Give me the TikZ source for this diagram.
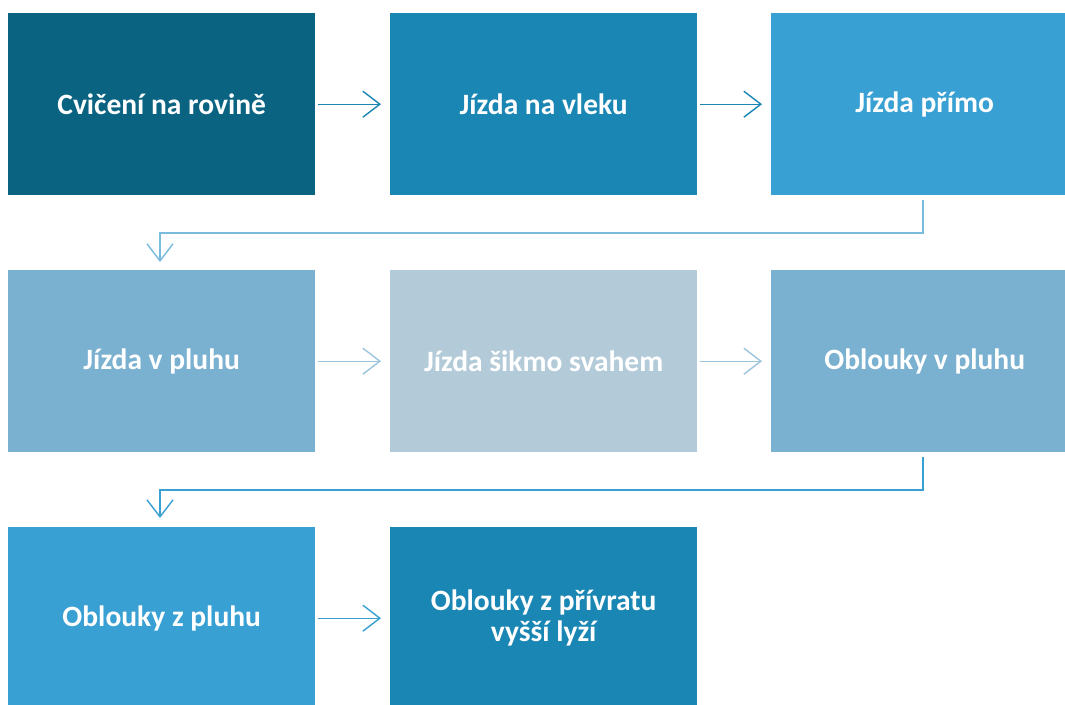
\documentclass[tikz,border=0pt]{standalone}
\usepackage{fontspec}
\setmainfont{Carlito}
\usetikzlibrary{arrows.meta}
\definecolor{cA}{HTML}{0B6382}
\definecolor{cB}{HTML}{1A86B4}
\definecolor{cC}{HTML}{38A0D3}
\definecolor{cD}{HTML}{7AB1D1}
\definecolor{cE}{HTML}{B3CBD9}
\definecolor{aA}{HTML}{1A86B4}
\definecolor{aB}{HTML}{9CC5DE}
\definecolor{aC}{HTML}{38A0D3}
\definecolor{eA}{HTML}{79BADF}
\tikzset{
  box/.style={draw=none, minimum width=307pt, minimum height=182pt, inner sep=0pt,
    text=white, font=\bfseries\fontsize{29.5}{31}\selectfont, align=center, anchor=north west},
  conn/.style={line width=1.4pt, -{Straight Barb[length=17pt,width=26pt,line width=1.4pt]}},
}
\begin{document}
\begin{tikzpicture}[x=1pt,y=-1pt]
\useasboundingbox (0,0) rectangle (1065,704);
\fill[white] (0,0) rectangle (1065,704);
\begin{scope}
\clip (0,0) rectangle (1065,704);
\node[box, fill=cA] (n1) at (8,13) {Cvičení na rovině};
\node[box, fill=cB] (n2) at (390,13) {Jízda na vleku};
\node[box, fill=cC] (n3) at (771,13) {Jízda přímo};
\node[box, fill=cD] (n4) at (8,270) {Jízda v pluhu};
\node[box, fill=cE] (n5) at (390,270) {Jízda šikmo svahem};
\node[box, fill=cD] (n6) at (771,270) {Oblouky v pluhu};
\node[box, fill=cC] (n7) at (8,527) {Oblouky z pluhu};
\node[box, fill=cB] (n8) at (390,527) {Oblouky z přívratu\\vyšší lyží};
\end{scope}
\coordinate (n3b) at (923,200);
\coordinate (n6b) at (923,457);
\coordinate (n4t) at (160,262);
\coordinate (n7t) at (160,518);
\draw[conn, aA] ([xshift=3pt]n1.east) -- ([xshift=-9pt]n2.west);
\draw[conn, aA] ([xshift=3pt]n2.east) -- ([xshift=-9pt]n3.west);
\draw[conn, eA] (n3b) |- (160,233) -- (n4t);
\draw[conn, aB] ([xshift=3pt]n4.east) -- ([xshift=-9pt]n5.west);
\draw[conn, aB] ([xshift=3pt]n5.east) -- ([xshift=-9pt]n6.west);
\draw[conn, aC] (n6b) |- (160,490) -- (n7t);
\draw[conn, aC] ([xshift=3pt]n7.east) -- ([xshift=-9pt]n8.west);
\end{tikzpicture}
\end{document}
